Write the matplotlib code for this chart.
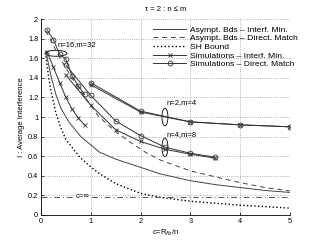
import numpy as np
import matplotlib
matplotlib.use("Agg")
import matplotlib.pyplot as plt
from matplotlib.patches import Ellipse

plt.rcParams['font.family'] = ['Liberation Sans', 'DejaVu Sans']
plt.rcParams['font.size'] = 5

# asymptotic bounds
c_asym_im = [0.1, 0.2, 0.3, 0.4, 0.56, 0.8, 1.18, 1.5, 1.8, 2.39, 3.0, 3.5, 4.0, 4.5, 5.0]
asym_im = [1.67, 1.42, 1.23, 1.09, 0.95, 0.80, 0.64, 0.57, 0.52, 0.42, 0.35, 0.31, 0.28, 0.25, 0.23]

c_asym_dm = [0.1, 0.3, 0.5, 0.75, 1.0, 1.15, 1.5, 1.8, 2.1, 2.4, 3.0, 3.5, 4.0, 4.5, 5.0]
asym_dm = [1.88, 1.68, 1.50, 1.30, 1.12, 1.01, 0.85, 0.74, 0.64, 0.56, 0.45, 0.39, 0.33, 0.28, 0.245]

# SH bound
c_sh = [0.1, 0.15, 0.2, 0.3, 0.4, 0.5, 0.78, 1.0, 1.18, 1.5, 2.0, 2.4, 3.0, 4.0, 5.0]
sh = [1.62, 1.42, 1.27, 1.04, 0.89, 0.77, 0.59, 0.49, 0.42, 0.32, 0.22, 0.18, 0.14, 0.10, 0.07]

c_inf = 0.185

# simulations
c16 = [0.125, 0.25, 0.375, 0.5, 0.625, 0.75, 0.875]
dm16 = [1.89, 1.79, 1.64, 1.59, 1.42, 1.32, 1.23]
im16 = [1.66, 1.51, 1.35, 1.20, 1.08, 0.99, 0.92]

c4 = [0.5, 1.0, 1.5, 2.0, 2.5, 3.0, 3.5]
dm4 = [1.53, 1.22, 0.96, 0.81, 0.69, 0.63, 0.59]
im4 = [1.43, 1.12, 0.87, 0.75, 0.67, 0.62, 0.58]

c2 = [1, 2, 3, 4, 5]
dm2 = [1.35, 1.06, 0.95, 0.92, 0.90]
im2 = [1.33, 1.05, 0.95, 0.92, 0.90]

fig = plt.figure(figsize=(3.2, 2.41), dpi=100)
ax = fig.add_axes([0.128, 0.108, 0.778, 0.813])

lw = 0.7
ax.plot(c_asym_im, asym_im, '-', color='#444444', lw=lw, label='Asympt. Bds – Interf. Min.')
ax.plot(c_asym_dm, asym_dm, '--', color='#444444', lw=lw, dashes=(5, 4), label='Asympt. Bds – Direct. Match')
ax.plot(c_sh, sh, ':', color='black', lw=1.0, label='SH Bound')
ax.axhline(c_inf, color='#555555', lw=lw, ls='-.', dashes=(6, 3, 1, 3))

ms = 3.5
ax.plot(c16, im16, '-x', color='#333333', lw=lw, ms=ms, mew=0.6, label='Simulations – Interf. Min.')
ax.plot(c16, dm16, '-o', color='#333333', lw=lw, ms=ms, mew=0.6, mfc='none', label='Simulations – Direct. Match')
ax.plot(c4, im4, '-x', color='#333333', lw=lw, ms=ms, mew=0.6)
ax.plot(c4, dm4, '-o', color='#333333', lw=lw, ms=ms, mew=0.6, mfc='none')
ax.plot(c2, im2, '-x', color='#333333', lw=lw, ms=ms, mew=0.6)
ax.plot(c2, dm2, '-o', color='#333333', lw=lw, ms=ms, mew=0.6, mfc='none')

# ellipses around groups
ax.add_patch(Ellipse((0.30, 1.65), 0.44, 0.06, fill=False, lw=0.6, color='black'))
ax.add_patch(Ellipse((2.49, 1.0), 0.12, 0.18, fill=False, lw=0.6, color='black'))
ax.add_patch(Ellipse((2.49, 0.69), 0.12, 0.19, fill=False, lw=0.6, color='black'))

ax.text(0.34, 1.74, 'n=16,m=32', va='center', ha='left', fontsize=5.5)
ax.text(2.53, 1.15, 'n=2,m=4', va='center', ha='left', fontsize=5.5)
ax.text(2.53, 0.82, 'n=4,m=8', va='center', ha='left', fontsize=5.5)
ax.text(0.83, c_inf, 'c=∞', va='center', ha='center', fontsize=5.5,
        bbox=dict(facecolor='white', edgecolor='none', pad=0.3))

ax.set_xlim(0, 5)
ax.set_ylim(0, 2)
ax.set_xticks(np.arange(0, 6, 1))
ax.set_yticks(np.arange(0, 2.01, 0.2))
ax.set_yticklabels(['0', '0.2', '0.4', '0.6', '0.8', '1', '1.2', '1.4', '1.6', '1.8', '2'])
ax.tick_params(direction='in', length=2, width=0.5, pad=2, labelsize=5.3)
ax.grid(True, ls=':', color='#999999', lw=0.6)
for s in ['top', 'right']:
    ax.spines[s].set_visible(False)
for s in ['left', 'bottom']:
    ax.spines[s].set_linewidth(0.6)

ax.set_title('τ = 2 : n ≤ m', fontsize=5.5, pad=6)
ax.set_xlabel('c=R$_{fb}$/n', fontsize=5.5, labelpad=2)
ax.set_ylabel('I : Average Interference', fontsize=5.5, labelpad=2)

ax.legend(loc='upper left', bbox_to_anchor=(0.45, 0.965), frameon=False, fontsize=6.1,
          handlelength=3.9, handletextpad=0.5, labelspacing=0.08, borderpad=0,
          borderaxespad=0)

fig.savefig('out.png', dpi=100)
